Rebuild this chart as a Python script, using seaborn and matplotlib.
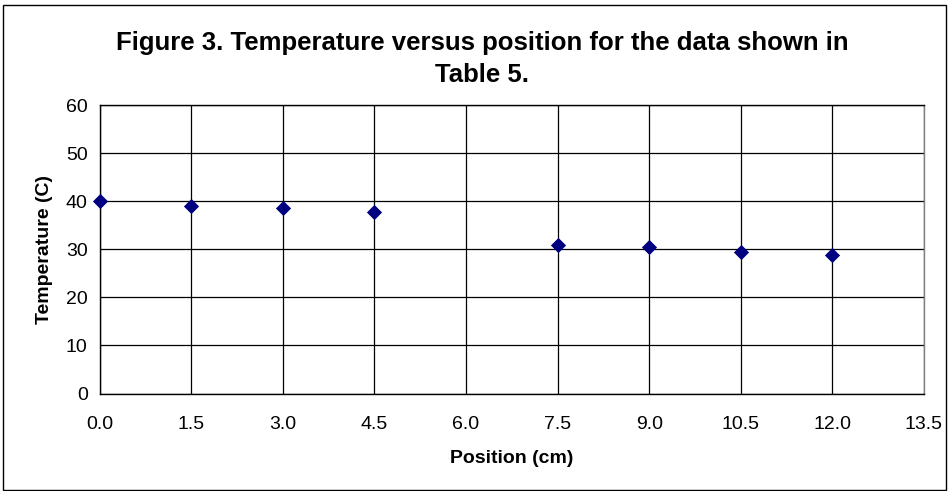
import matplotlib
matplotlib.use("Agg")
import matplotlib.pyplot as plt
import seaborn as sns
import pandas as pd
from matplotlib.patches import Rectangle

position = [0.0, 1.5, 3.0, 4.5, 7.5, 9.0, 10.5, 12.0]
temperature = [40.0, 39.1, 38.7, 37.8, 30.9, 30.5, 29.5, 28.9]
x_ticks = [0.0, 1.5, 3.0, 4.5, 6.0, 7.5, 9.0, 10.5, 12.0, 13.5]
y_ticks = [0, 10, 20, 30, 40, 50, 60]

sns.set_style("white")
plt.rcParams['font.family'] = ['Liberation Sans', 'DejaVu Sans']
plt.rcParams.update({"text.color": "black", "axes.labelcolor": "black",
                     "xtick.color": "black", "ytick.color": "black"})

df = pd.DataFrame({"Position (cm)": position, "Temperature (C)": temperature})

fig = plt.figure(figsize=(9.5, 4.91), dpi=100)
left, right, top, bottom = 99.5, 924.0, 105.3, 393.5
ax = fig.add_axes([left/950, 1 - bottom/491, (right-left)/950, (bottom-top)/491])

sns.scatterplot(data=df, x="Position (cm)", y="Temperature (C)", marker="D",
                color="#000080", s=60, edgecolor="#000080", linewidth=0, ax=ax,
                zorder=3, clip_on=False)

ax.set_xlim(0, 13.5)
ax.set_ylim(0, 60)
ax.set_xticks(x_ticks)
ax.set_xticklabels([f"{v:.1f}" for v in x_ticks], fontsize=14)
ax.set_yticks(y_ticks)
ax.set_yticklabels([str(v) for v in y_ticks], fontsize=14)
ax.grid(True, color="black", linewidth=0.9)
ax.set_axisbelow(True)
ax.tick_params(axis="both", direction="inout", length=7, width=0.9, color="black")
ax.tick_params(axis="y", pad=5)
ax.tick_params(axis="x", pad=13)
for side in ["left", "bottom", "top"]:
    ax.spines[side].set_color("black")
    ax.spines[side].set_linewidth(1.0)
ax.spines["right"].set_color("#808080")
ax.spines["right"].set_linewidth(1.0)

ax.set_xlabel("Position (cm)", fontsize=14, fontweight="bold", labelpad=12)
ax.set_ylabel("Temperature (C)", fontsize=14, fontweight="bold", labelpad=9)

fig.suptitle("Figure 3. Temperature versus position for the data shown in\nTable 5.",
             x=482/950, y=1 - 31/491, fontsize=18.5, fontweight="bold",
             linespacing=1.42, va="top", color="black")

fig.patches.append(Rectangle((3/950, 1/491), 943/950, 485/491, transform=fig.transFigure,
                             fill=False, edgecolor="black", linewidth=1.0))

fig.savefig("out.png", dpi=100)
